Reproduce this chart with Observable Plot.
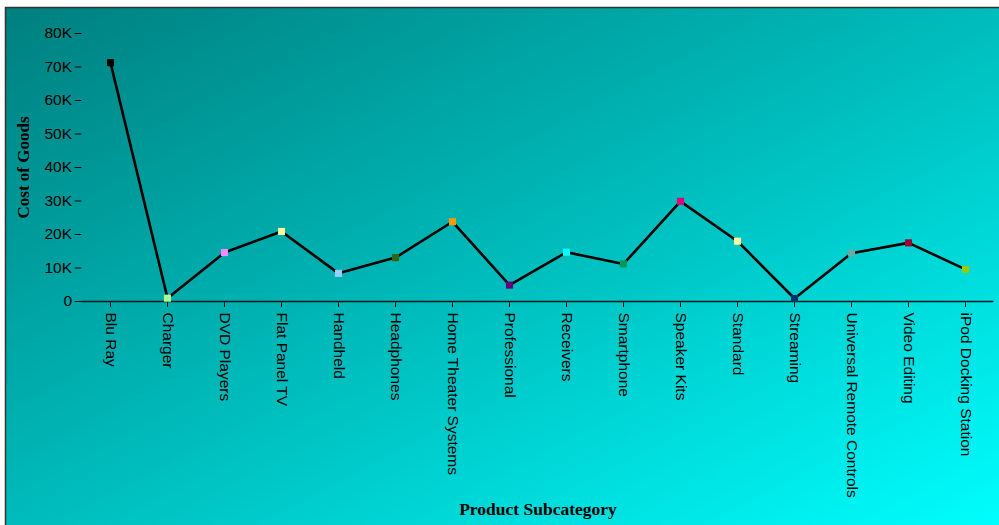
<!DOCTYPE html>
<html>
<head>
<meta charset="utf-8">
<script src="https://cdn.jsdelivr.net/npm/d3@7"></script>
<script src="https://cdn.jsdelivr.net/npm/@observablehq/plot@0.6"></script>
<style>
  html, body { margin: 0; padding: 0; background: #ffffff; }
  #chart { width: 999px; height: 525px; }
</style>
</head>
<body>
<div id="chart"></div>
<script>
const categories = [
  "Blu Ray", "Charger", "DVD Players", "Flat Panel TV", "Handheld", "Headphones",
  "Home Theater Systems", "Professional", "Receivers", "Smartphone", "Speaker Kits",
  "Standard", "Streaming", "Universal Remote Controls", "Video Editing", "iPod Docking Station"
];
const costOfGoods = [
  71300, 1000, 14600, 20900, 8400, 13100,
  23800, 4900, 14700, 11200, 29900,
  18000, 900, 14400, 17500, 9600
];
const markerColors = [
  "#000000", "#a8ff98", "#ff88ff", "#ffff99", "#99ccff", "#336611",
  "#ff9900", "#660077", "#00ffff", "#009955", "#dd0077",
  "#ffff99", "#003366", "#66aaaa", "#990033", "#99cc00"
];
const yTicks = [0, 10000, 20000, 30000, 40000, 50000, 60000, 70000, 80000];
const yTitle = "Cost of Goods";
const xTitle = "Product Subcategory";

const data = categories.map((c, i) => ({ category: c, cost: costOfGoods[i], color: markerColors[i] }));

const chart = Plot.plot({
  width: 999,
  height: 525,
  marginLeft: 81.5,
  marginRight: 5.5,
  marginTop: 33,
  marginBottom: 224,
  style: { fontFamily: "'Liberation Sans', Arial, sans-serif", fontSize: "15.5px", color: "#000", background: "transparent", overflow: "visible" },
  x: { type: "point", domain: categories, padding: 0.5, label: null, tickSize: 6, tickPadding: 5, tickRotate: 90 },
  y: { domain: [0, 80000], ticks: yTicks, tickFormat: d => d === 0 ? "0" : (d / 1000) + "K", tickSize: 7, tickPadding: 3, label: null },
  color: { type: "identity" },
  marks: [
    Plot.ruleY([0], { stroke: "#0a1a1a", strokeWidth: 1.5 }),
    Plot.line(data, { x: "category", y: "cost", stroke: "#000", strokeWidth: 2.6 }),
    Plot.dot(data, { x: "category", y: "cost", fill: "color", symbol: "square", r: 4, stroke: null }),
    Plot.text([yTitle], { frameAnchor: "left", textAnchor: "middle", dx: -58.5, rotate: -90, fontWeight: "bold", fontFamily: "'Liberation Serif', 'Times New Roman', serif", fontSize: 17, fill: "#000" }),
    Plot.text([xTitle], { frameAnchor: "bottom", textAnchor: "middle", dy: 213, fontWeight: "bold", fontFamily: "'Liberation Serif', 'Times New Roman', serif", fontSize: 17.5, fill: "#000" })
  ]
});

// background gradient panel with border (decoration)
const svg = d3.select(chart);
const defs = svg.insert("defs", ":first-child");
const grad = defs.append("linearGradient")
  .attr("id", "bgGrad").attr("x1", "0").attr("y1", "0").attr("x2", "1").attr("y2", "1");
grad.append("stop").attr("offset", "0%").attr("stop-color", "#007f7f");
grad.append("stop").attr("offset", "50%").attr("stop-color", "#00bcbc");
grad.append("stop").attr("offset", "100%").attr("stop-color", "#00ffff");
svg.insert("rect", "defs + *")
  .attr("x", 5.5).attr("y", 7.5).attr("width", 1000).attr("height", 525)
  .attr("fill", "url(#bgGrad)").attr("stroke", "#333").attr("stroke-width", 1.5);

document.getElementById("chart").appendChild(chart);
</script>
</body>
</html>
